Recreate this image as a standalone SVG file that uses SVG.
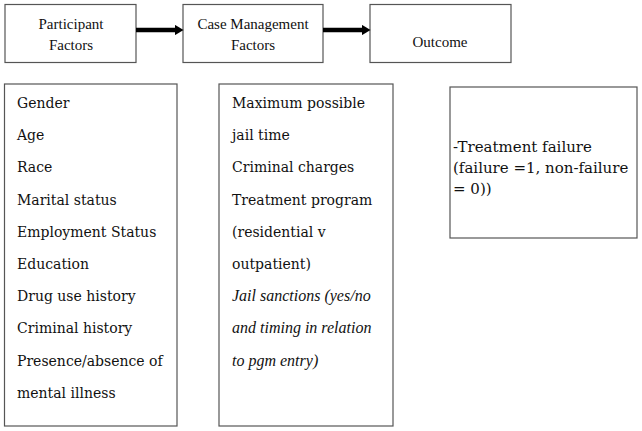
<svg xmlns="http://www.w3.org/2000/svg" width="642" height="431" viewBox="0 0 642 431">
<style>
.box{fill:#fff;stroke:#555;stroke-width:1.2}
text{font-family:'DejaVu Serif','Liberation Serif',serif;font-size:14px;fill:#111}
.h{font-family:'Liberation Serif',serif;font-size:15px;text-anchor:middle}
.i{font-family:'Liberation Serif',serif;font-size:16px;font-style:italic}
.o{font-size:15px}
.conn{stroke:#000;stroke-width:4.5;fill:none}
</style>
<defs>
<marker id="ah" markerWidth="2" markerHeight="2.4" refX="0.1" refY="1.2" orient="auto" markerUnits="strokeWidth">
<path d="M0,0 L2,1.2 L0,2.4 Z" fill="#000"/>
</marker>
</defs>
<rect width="642" height="431" fill="#fff"/>
<g id="participant-factors">
<rect class="box" x="5" y="4.5" width="131" height="58"/>
<text class="h" x="71" y="29">Participant</text>
<text class="h" x="71" y="50">Factors</text>
</g>
<g id="case-management-factors">
<rect class="box" x="183" y="4.5" width="140" height="58"/>
<text class="h" x="253" y="29">Case Management</text>
<text class="h" x="253" y="50">Factors</text>
</g>
<g id="outcome">
<rect class="box" x="370" y="4.5" width="141" height="58"/>
<text class="h" x="440" y="47">Outcome</text>
</g>
<g id="participant-list">
<rect class="box" x="4.5" y="84" width="172.5" height="342"/>
<text x="17" y="108">Gender</text>
<text x="17" y="140">Age</text>
<text x="17" y="172">Race</text>
<text x="17" y="205">Marital status</text>
<text x="17" y="237">Employment Status</text>
<text x="17" y="269">Education</text>
<text x="17" y="301">Drug use history</text>
<text x="17" y="333">Criminal history</text>
<text x="17" y="366">Presence/absence of</text>
<text x="17" y="398">mental illness</text>
</g>
<g id="case-management-list">
<rect class="box" x="219" y="84" width="174" height="342"/>
<text x="232" y="108">Maximum possible</text>
<text x="232" y="140">jail time</text>
<text x="232" y="172">Criminal charges</text>
<text x="232" y="205">Treatment program</text>
<text x="232" y="237">(residential v</text>
<text x="232" y="269">outpatient)</text>
<text class="i" x="232" y="301">Jail sanctions (yes/no</text>
<text class="i" x="232" y="333">and timing in relation</text>
<text class="i" x="232" y="366">to pgm entry)</text>
</g>
<g id="outcome-detail">
<rect class="box" x="450" y="87" width="187" height="151"/>
<text class="o" x="453" y="152">-Treatment failure</text>
<text class="o" x="453" y="173">(failure =1, non-failure</text>
<text class="o" x="453" y="194">= 0))</text>
</g>
<g id="connectors">
<line class="conn" x1="136" y1="30" x2="175" y2="30" marker-end="url(#ah)"/>
<line class="conn" x1="323" y1="30" x2="362" y2="30" marker-end="url(#ah)"/>
</g>
</svg>
